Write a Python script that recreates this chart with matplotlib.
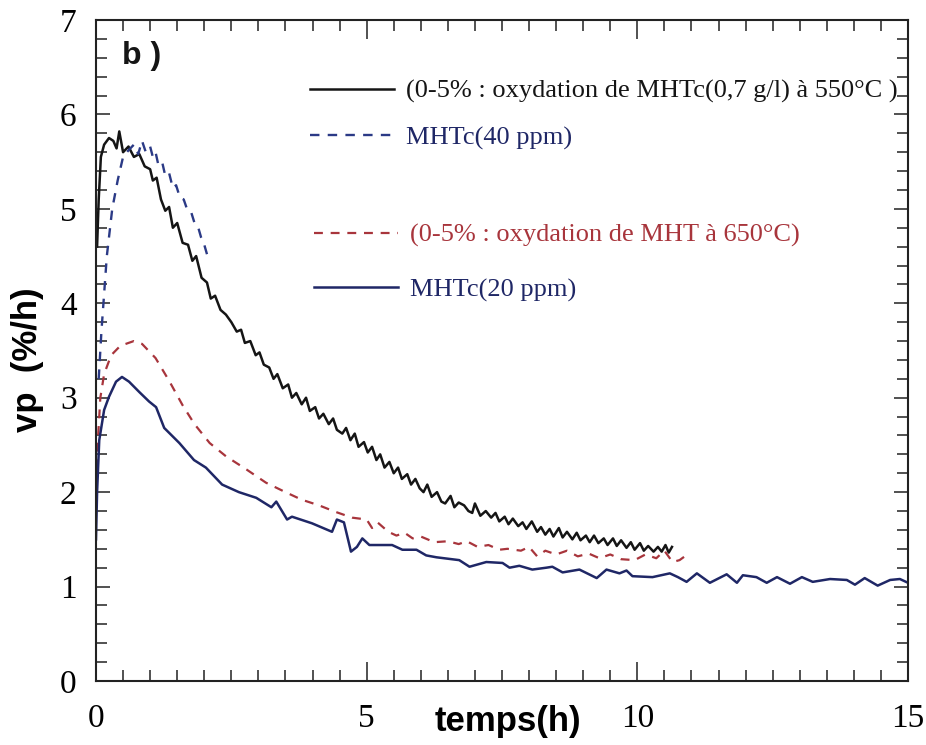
import matplotlib
matplotlib.use("Agg")
import matplotlib.pyplot as plt
from matplotlib.ticker import MultipleLocator
from matplotlib.font_manager import FontProperties

# ---------------- data ----------------
black_x = [0.02, 0.05, 0.09, 0.15, 0.24, 0.32, 0.38, 0.43, 0.5, 0.6, 0.7, 0.8, 0.9, 1.0, 1.05, 1.12, 1.2, 1.28,
           1.35, 1.42, 1.5, 1.6, 1.7, 1.78, 1.85, 1.95, 2.05, 2.12, 2.2, 2.3, 2.4, 2.5, 2.6, 2.68, 2.75, 2.85,
           2.95, 3.02, 3.1, 3.2, 3.28, 3.35, 3.45, 3.55, 3.62, 3.7, 3.8, 3.88, 3.95, 4.05, 4.12, 4.2, 4.3, 4.38,
           4.45, 4.55, 4.62, 4.7, 4.78, 4.85, 4.95, 5.02, 5.1, 5.18, 5.25, 5.33, 5.42, 5.5, 5.58, 5.65, 5.75,
           5.82, 5.9, 5.98, 6.05, 6.12, 6.2, 6.3, 6.38, 6.45, 6.55, 6.62, 6.7, 6.8, 6.88, 6.95, 7.0, 7.1, 7.2,
           7.3, 7.38, 7.45, 7.55, 7.62, 7.7, 7.8, 7.88, 7.95, 8.05, 8.15, 8.22, 8.3, 8.38, 8.45, 8.55, 8.62,
           8.7, 8.8, 8.88, 8.95, 9.05, 9.12, 9.2, 9.28, 9.38, 9.45, 9.55, 9.62, 9.7, 9.8, 9.88, 9.95, 10.05,
           10.12, 10.2, 10.3, 10.38, 10.45, 10.52, 10.58, 10.64]
black_y = [4.6, 5.1, 5.55, 5.68, 5.75, 5.72, 5.64, 5.82, 5.6, 5.66, 5.55, 5.58, 5.45, 5.42, 5.3, 5.33, 5.1, 4.98,
           5.02, 4.8, 4.85, 4.64, 4.62, 4.45, 4.5, 4.27, 4.22, 4.05, 4.08, 3.93, 3.88, 3.8, 3.7, 3.72, 3.58, 3.6,
           3.45, 3.48, 3.35, 3.32, 3.2, 3.25, 3.1, 3.14, 3.0, 3.05, 2.93, 3.0, 2.86, 2.9, 2.78, 2.83, 2.72, 2.78,
           2.66, 2.62, 2.68, 2.55, 2.62, 2.48, 2.53, 2.42, 2.48, 2.34, 2.4, 2.26, 2.32, 2.2, 2.26, 2.14, 2.19,
           2.08, 2.14, 2.04, 2.0, 2.08, 1.95, 2.0, 1.9, 1.88, 1.96, 1.84, 1.89, 1.86, 1.8, 1.78, 1.88, 1.75, 1.8,
           1.73, 1.78, 1.69, 1.74, 1.66, 1.72, 1.64, 1.68, 1.61, 1.69, 1.58, 1.63, 1.55, 1.61, 1.53, 1.62, 1.52,
           1.58, 1.5, 1.57, 1.49, 1.54, 1.47, 1.54, 1.46, 1.51, 1.44, 1.51, 1.43, 1.49, 1.41, 1.47, 1.39, 1.46,
           1.38, 1.43, 1.37, 1.42, 1.37, 1.44, 1.36, 1.42]

ppm40_x = [0.05, 0.1, 0.2, 0.3, 0.4, 0.5, 0.6, 0.7, 0.78, 0.85, 0.92, 1.0, 1.05, 1.1, 1.15, 1.22, 1.28, 1.35,
           1.42, 1.48, 1.55, 1.62, 1.68, 1.75, 1.82, 1.88, 1.94, 2.0, 2.05]
ppm40_y = [3.2, 3.7, 4.5, 5.0, 5.3, 5.55, 5.62, 5.68, 5.58, 5.72, 5.6, 5.66, 5.55, 5.6, 5.47, 5.5, 5.35, 5.38,
           5.22, 5.25, 5.12, 5.1, 5.0, 4.98, 4.85, 4.82, 4.7, 4.62, 4.52]

mht_x = [0.0, 0.03, 0.08, 0.15, 0.28, 0.45, 0.7, 0.85, 1.1, 1.35, 1.6, 1.82, 2.1, 2.4, 2.78, 3.14, 3.5, 3.8,
         4.12, 4.43, 4.73, 5.0, 5.1, 5.2, 5.4, 5.55, 5.7, 5.85, 6.0, 6.25, 6.5, 6.7, 6.85, 7.05, 7.25, 7.45,
         7.6, 7.85, 8.0, 8.15, 8.3, 8.5, 8.7, 8.9, 9.1, 9.3, 9.5, 9.7, 9.95, 10.15, 10.35, 10.5, 10.65, 10.78, 10.9]
mht_y = [1.9, 2.5, 3.0, 3.25, 3.45, 3.55, 3.6, 3.57, 3.42, 3.18, 2.92, 2.72, 2.52, 2.38, 2.24, 2.1, 2.0, 1.92,
         1.86, 1.79, 1.73, 1.71, 1.62, 1.68, 1.58, 1.54, 1.57, 1.51, 1.53, 1.47, 1.48, 1.45, 1.48, 1.42, 1.44,
         1.39, 1.4, 1.38, 1.42, 1.32, 1.38, 1.34, 1.38, 1.32, 1.35, 1.3, 1.34, 1.29, 1.28, 1.34, 1.3, 1.38,
         1.26, 1.28, 1.33]

ppm20_x = [0.0, 0.02, 0.06, 0.15, 0.24, 0.37, 0.48, 0.61, 0.8, 0.98, 1.11, 1.26, 1.54, 1.81, 2.03, 2.33, 2.64,
           2.96, 3.24, 3.33, 3.53, 3.62, 3.99, 4.36, 4.45, 4.58, 4.71, 4.82, 4.92, 5.05, 5.47, 5.66, 5.92, 6.1,
           6.29, 6.71, 6.9, 7.21, 7.51, 7.64, 7.82, 8.06, 8.32, 8.43, 8.62, 8.93, 9.25, 9.43, 9.67, 9.8, 9.91,
           10.28, 10.6, 10.75, 10.91, 11.1, 11.34, 11.65, 11.84, 11.95, 12.2, 12.39, 12.58, 12.82, 13.04, 13.24,
           13.56, 13.87, 14.02, 14.2, 14.44, 14.67, 14.85, 15.0]
ppm20_y = [1.5, 2.0, 2.55, 2.87, 3.01, 3.17, 3.22, 3.17, 3.06, 2.96, 2.9, 2.68, 2.52, 2.34, 2.26, 2.08, 2.0,
           1.94, 1.84, 1.9, 1.71, 1.74, 1.67, 1.58, 1.71, 1.68, 1.37, 1.42, 1.51, 1.44, 1.44, 1.39, 1.39, 1.33,
           1.31, 1.28, 1.21, 1.26, 1.25, 1.2, 1.22, 1.18, 1.2, 1.21, 1.15, 1.18, 1.09, 1.18, 1.14, 1.17, 1.11,
           1.1, 1.14, 1.1, 1.05, 1.14, 1.04, 1.13, 1.04, 1.12, 1.1, 1.04, 1.1, 1.03, 1.1, 1.05, 1.08, 1.07,
           1.02, 1.09, 1.01, 1.07, 1.08, 1.04]

labels = ["(0-5% : oxydation de MHTc(0,7 g/l) à 550°C )",
          "MHTc(40 ppm)",
          "(0-5% : oxydation de MHT à 650°C)",
          "MHTc(20 ppm)"]
x_ticks = [0, 5, 10, 15]
y_ticks = [0, 1, 2, 3, 4, 5, 6, 7]

# ---------------- style ----------------
C_BLACK = "#151515"
C_NAVY = "#1f2766"
C_NAVY_D = "#2b3a86"
C_RED = "#a8353c"

serif = "Liberation Serif"
sans = "Liberation Sans"

fig = plt.figure(figsize=(9.26, 7.45), dpi=100)
ax = fig.add_axes([96 / 926, 1 - 681 / 745, (908 - 96) / 926, (681 - 20) / 745])

l1, = ax.plot(black_x, black_y, color=C_BLACK, lw=1.8)
l2, = ax.plot(ppm40_x, ppm40_y, color=C_NAVY_D, lw=1.7, dashes=(4, 3.5))
l3, = ax.plot(mht_x, mht_y, color=C_RED, lw=1.6, dashes=(4, 3.5))
l4, = ax.plot(ppm20_x, ppm20_y, color=C_NAVY, lw=1.8)

ax.set_xlim(0, 15)
ax.set_ylim(0, 7)
ax.set_xticks(x_ticks)
ax.set_yticks(y_ticks)
ax.set_xticklabels([str(v) for v in x_ticks], fontfamily=serif, fontsize=24)
ax.set_yticklabels([str(v) for v in y_ticks], fontfamily=serif, fontsize=24)
ax.xaxis.set_minor_locator(MultipleLocator(0.5))
ax.yaxis.set_minor_locator(MultipleLocator(0.2))
ax.tick_params(axis="both", which="both", direction="in", top=True, right=True, width=1.1, color="#222222")
ax.tick_params(axis="x", which="major", length=14, pad=16)
ax.tick_params(axis="x", which="minor", length=8)
ax.tick_params(axis="y", which="major", length=10, pad=14)
ax.tick_params(axis="y", which="minor", length=8)
for s in ax.spines.values():
    s.set_linewidth(1.5)
    s.set_color("#222222")

ax.set_xlabel("temps(h)", fontfamily=sans, fontweight="bold", fontsize=25)
ax.xaxis.set_label_coords(0.507, -0.037)
ax.set_ylabel("vp  (%/h)", fontfamily=sans, fontweight="bold", fontsize=25)
ax.yaxis.set_label_coords(-0.064, 0.486)

ax.text(26 / 812, 1 - 36 / 661, "b )", transform=ax.transAxes, fontfamily=sans, fontweight="bold",
        fontsize=23, va="center", ha="left", color="#151515")

fp = FontProperties(family=serif, size=19)
leg1 = fig.legend([l1, l2], labels[:2], loc="upper left", bbox_to_anchor=(310 / 926, 1 - 79.5 / 745),
                  bbox_transform=fig.transFigure, frameon=False, prop=fp, borderpad=0, borderaxespad=0,
                  handlelength=3.2, handletextpad=0.45, labelspacing=0.86)
leg1.get_texts()[0].set_color("#151515")
leg1.get_texts()[1].set_color(C_NAVY)
leg2 = fig.legend([l3, l4], labels[2:], loc="upper left", bbox_to_anchor=(314 / 926, 1 - 223.5 / 745),
                  bbox_transform=fig.transFigure, frameon=False, prop=fp, borderpad=0, borderaxespad=0,
                  handlelength=3.2, handletextpad=0.45, labelspacing=1.16)
leg2.get_texts()[0].set_color(C_RED)
leg2.get_texts()[1].set_color(C_NAVY)

fig.savefig("out.png", dpi=100)
